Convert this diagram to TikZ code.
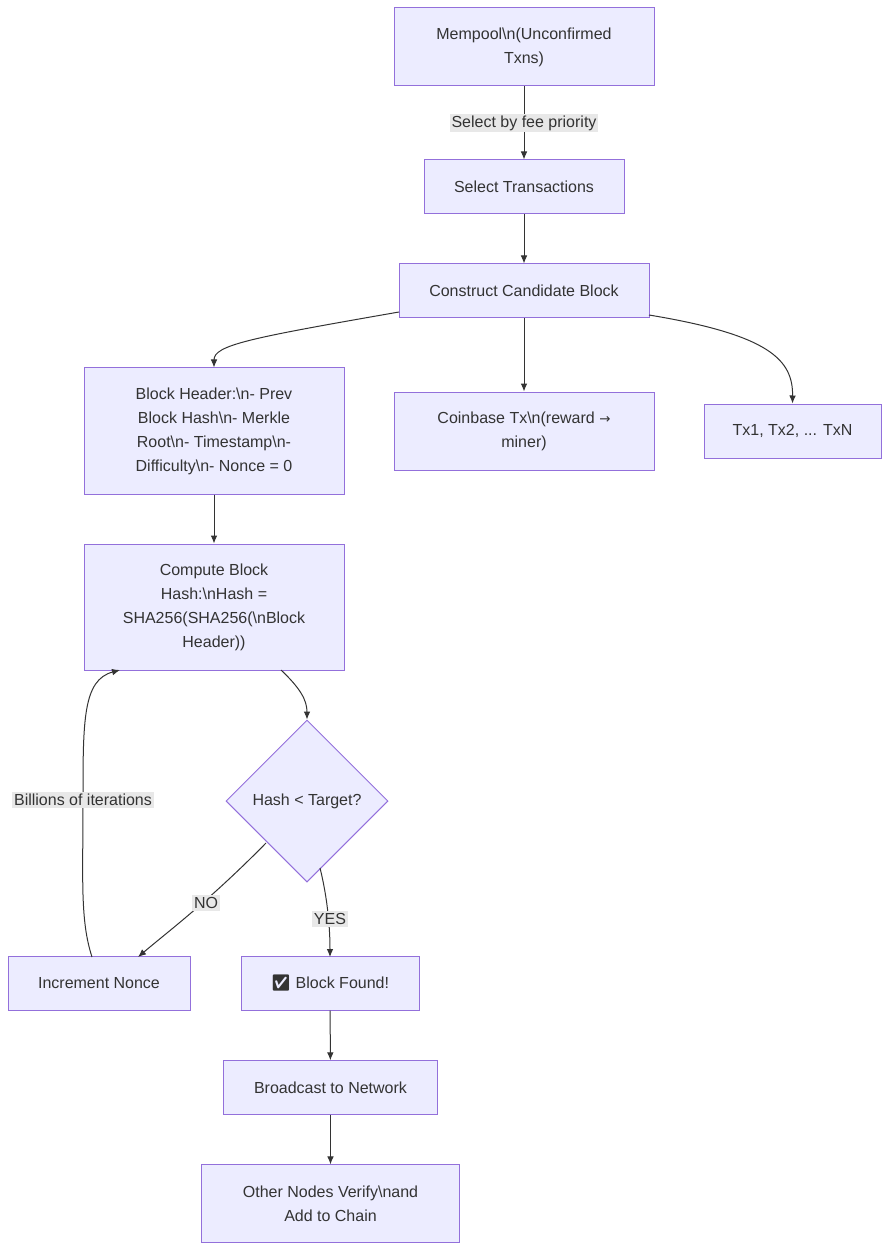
\documentclass[tikz,border=0pt]{standalone}
\usepackage{fontspec}
\setmainfont{Liberation Sans}
\newfontfamily\emojifont{Noto Emoji}
\usetikzlibrary{shapes.geometric,arrows.meta}
\definecolor{nfill}{HTML}{ECECFF}
\definecolor{nborder}{HTML}{9370DB}
\definecolor{ntext}{HTML}{333333}
\definecolor{lbg}{HTML}{E8E8E8}
\begin{document}
\begin{tikzpicture}[x=0.75pt,y=-0.75pt,
  box/.style={draw=nborder,fill=nfill,text=ntext,font=\fontsize{12}{18}\selectfont,align=center,inner sep=0pt,line width=0.75pt},
  lab/.style={fill=lbg,text=ntext,font=\fontsize{12}{14}\selectfont,inner sep=1.5pt},
  arr/.style={draw=ntext,line width=0.75pt,-{Latex[length=6pt,width=5pt]}}]
\useasboundingbox (0,0) rectangle (889,1251);
\node[box,minimum width=195pt,minimum height=58.5pt] (mem) at (524,47) {Mempool\textbackslash n(Unconfirmed\\Txns)};
\node[box,minimum width=150pt,minimum height=40.5pt] (sel) at (524,187) {Select Transactions};
\node[box,minimum width=187.5pt,minimum height=40.5pt] (con) at (524,291) {Construct Candidate Block};
\node[box,minimum width=195pt,minimum height=94.5pt] (hdr) at (214,431) {Block Header:\textbackslash n- Prev\\Block Hash\textbackslash n- Merkle\\Root\textbackslash n- Timestamp\textbackslash n-\\Difficulty\textbackslash n- Nonce = 0};
\node[box,minimum width=195pt,minimum height=58.5pt] (cb) at (524,431) {Coinbase Tx\textbackslash n(reward {\fontspec{DejaVu Sans}\fontsize{10}{12}\selectfont →}\\miner)};
\node[box,minimum width=132.75pt,minimum height=40.5pt] (tx) at (792.5,431) {Tx1, Tx2, ... TxN};
\node[box,minimum width=195pt,minimum height=94.5pt] (cmp) at (214,607) {Compute Block\\Hash:\textbackslash nHash =\\SHA256(SHA256(\textbackslash nBlock\\Header))};
\node[box,diamond,minimum width=121.5pt,minimum height=121.5pt] (dia) at (307,801) {Hash < Target?};
\node[box,minimum width=136.5pt,minimum height=40pt] (inc) at (99,983.5) {Increment Nonce};
\node[box,minimum width=133.5pt,minimum height=40pt] (fnd) at (330,983.5) {{\emojifont ✅} Block Found!};
\node[box,minimum width=160pt,minimum height=40pt] (bc) at (330.5,1087.5) {Broadcast to Network};
\node[box,minimum width=194pt,minimum height=58pt] (oth) at (330.5,1203.5) {Other Nodes Verify\textbackslash nand\\Add to Chain};
\draw[arr] (mem) -- node[lab]{Select by fee priority} (sel);
\draw[arr] (sel) -- (con);
\draw[arr] (con.south) -- (cb.north);
\draw[arr] (399,312) .. controls (250,338) and (214,345) .. (hdr.north);
\draw[arr] (649,315) .. controls (770,335) and (793,360) .. (tx.north);
\draw[arr] (hdr) -- (cmp);
\draw[arr] (281,670) .. controls (300,688) and (307,700) .. (dia.north);
\draw[arr] (266,843) .. controls (210,900) and (170,930) .. (138,957);
\node[lab] at (206,903) {NO};
\draw[arr] (320,868) .. controls (328,900) and (330,930) .. (330,957);
\node[lab] at (330,919) {YES};
\draw[arr] (92,957) .. controls (80,920) and (83,880) .. (83,800) .. controls (83,720) and (83,680) .. (120,670);
\node[lab] at (83,800) {Billions of iterations};
\draw[arr] (fnd) -- (bc);
\draw[arr] (bc) -- (oth);
\end{tikzpicture}
\end{document}
